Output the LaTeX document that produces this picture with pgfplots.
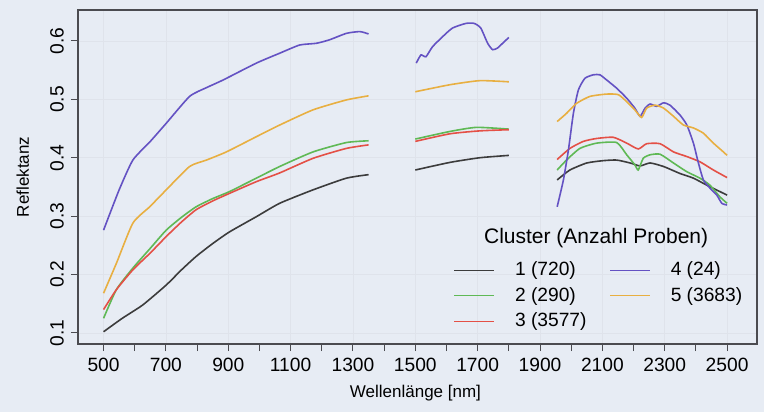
\documentclass[border=0pt]{standalone}
\usepackage{fontspec}
\setmainfont{Liberation Sans}
\usepackage{pgfplots}
\pgfplotsset{compat=1.18}

\definecolor{bgc}{RGB}{231,236,244}
\definecolor{cA}{RGB}{60,60,60}
\definecolor{cB}{RGB}{95,185,85}
\definecolor{cC}{RGB}{228,80,70}
\definecolor{cD}{RGB}{100,82,195}
\definecolor{cE}{RGB}{232,175,65}
\definecolor{axc}{RGB}{75,75,80}

\begin{document}
\begin{tikzpicture}
\fill[bgc] (-39pt,-34pt) rectangle (343pt,172pt);
\begin{axis}[
    name=main,
    at={(0,0)}, anchor=south west,
    scale only axis,
    width=339.5pt, height=167pt,
    xmin=418, xmax=2596,
    ymin=0.081, ymax=0.653,
    xtick={500,700,...,2500},
    minor xtick={600,800,...,2400},
    ytick={0.1,0.2,...,0.6},
    tick align=outside,
    xtick pos=bottom, ytick pos=left,
    major tick length=3.6pt, minor tick length=3.6pt,
    axis line style={axc, line width=0.7pt},
    tick style={axc, line width=0.5pt},
    /pgf/number format/assume math mode=true,
    /pgf/number format/1000 sep={},
    ticklabel style={font=\fontsize{9.6}{11}\selectfont},
    yticklabel style={rotate=90, anchor=south, /pgf/number format/fixed, /pgf/number format/precision=1},
    xlabel={Wellenlänge [nm]},
    ylabel={Reflektanz},
    label style={font=\fontsize{8.5}{10}\selectfont},
    xlabel style={at={(axis description cs:0.497,0)}, anchor=north, yshift=-17pt},
    ylabel style={at={(axis description cs:0,0.5)}, anchor=south, yshift=21pt},
    grid=major,
    grid style={bgc!92!gray, line width=0.3pt},
    every axis plot/.append style={line width=0.8pt, smooth, tension=0.35},
    legend columns=2,
    legend style={draw=none, fill=none, at={(axis cs:1603,0.236)}, anchor=north west,
        font=\fontsize{9.6}{11}\selectfont, row sep=0.3pt,
        /tikz/every odd column/.append style={column sep=8pt},
        /tikz/every even column/.append style={column sep=9.5pt}},
    legend cell align=left,
    legend image code/.code={\draw[#1, line width=0.6pt] (0pt,0pt) -- (20pt,0pt);},
]
% cluster 1
\addplot[cA, forget plot] coordinates {(500,0.102)(560,0.125)(626,0.148)(701,0.182)(750,0.208)(797,0.231)(850,0.253)(904,0.273)(990,0.299)(1065,0.322)(1172,0.345)(1279,0.365)(1350,0.371)};
\addplot[cA, forget plot] coordinates {(1500,0.379)(1611,0.392)(1707,0.400)(1800,0.404)};
\addplot[cA, forget plot] coordinates {(1955,0.362)(1996,0.379)(2050,0.391)(2103,0.395)(2146,0.396)(2189,0.391)(2221,0.386)(2253,0.391)(2296,0.385)(2349,0.373)(2392,0.365)(2435,0.353)(2477,0.342)(2500,0.336)};
% cluster 2
\addplot[cB, forget plot] coordinates {(500,0.125)(541,0.174)(594,0.211)(650,0.245)(701,0.276)(750,0.298)(797,0.316)(850,0.330)(904,0.342)(990,0.365)(1065,0.385)(1172,0.410)(1279,0.426)(1350,0.429)};
\addplot[cB, forget plot] coordinates {(1500,0.432)(1611,0.445)(1696,0.452)(1800,0.449)};
\addplot[cB, forget plot] coordinates {(1955,0.379)(1985,0.396)(2028,0.416)(2082,0.425)(2146,0.426)(2178,0.405)(2204,0.388)(2215,0.379)(2231,0.399)(2253,0.405)(2285,0.406)(2328,0.391)(2371,0.376)(2413,0.365)(2445,0.353)(2477,0.333)(2500,0.322)};
% cluster 3
\addplot[cC, forget plot] coordinates {(500,0.140)(541,0.174)(594,0.208)(650,0.237)(701,0.265)(750,0.290)(797,0.311)(850,0.326)(904,0.339)(990,0.359)(1065,0.374)(1172,0.399)(1279,0.416)(1350,0.422)};
\addplot[cC, forget plot] coordinates {(1500,0.428)(1611,0.441)(1707,0.446)(1800,0.448)};
\addplot[cC, forget plot] coordinates {(1955,0.397)(1996,0.416)(2039,0.428)(2082,0.433)(2135,0.435)(2178,0.425)(2215,0.415)(2242,0.424)(2285,0.424)(2328,0.410)(2371,0.402)(2413,0.393)(2456,0.379)(2500,0.366)};
% cluster 4
\addplot[cD, forget plot] coordinates {(500,0.276)(550,0.345)(594,0.396)(650,0.428)(701,0.459)(776,0.505)(830,0.520)(883,0.533)(990,0.562)(1065,0.579)(1129,0.593)(1183,0.596)(1225,0.602)(1279,0.613)(1322,0.616)(1350,0.612)};
\addplot[cD, forget plot] coordinates {(1503,0.562)(1518,0.576)(1534,0.573)(1555,0.590)(1587,0.607)(1619,0.622)(1662,0.630)(1689,0.630)(1710,0.622)(1732,0.596)(1748,0.585)(1764,0.588)(1780,0.596)(1800,0.606)};
\addplot[cD, forget plot] coordinates {(1955,0.316)(1975,0.362)(1991,0.413)(2007,0.476)(2023,0.516)(2044,0.536)(2071,0.542)(2092,0.542)(2114,0.533)(2146,0.519)(2178,0.502)(2204,0.485)(2221,0.471)(2237,0.485)(2253,0.492)(2274,0.488)(2296,0.494)(2317,0.490)(2349,0.473)(2371,0.456)(2392,0.425)(2408,0.391)(2424,0.362)(2445,0.348)(2467,0.336)(2483,0.322)(2500,0.319)};
% cluster 5
\addplot[cE, forget plot] coordinates {(500,0.168)(541,0.219)(594,0.288)(648,0.316)(701,0.345)(776,0.385)(830,0.396)(894,0.410)(990,0.436)(1065,0.456)(1172,0.482)(1279,0.499)(1350,0.506)};
\addplot[cE, forget plot] coordinates {(1500,0.513)(1611,0.525)(1707,0.532)(1800,0.530)};
\addplot[cE, forget plot] coordinates {(1955,0.462)(1985,0.476)(2017,0.493)(2060,0.505)(2114,0.509)(2151,0.508)(2178,0.496)(2204,0.482)(2226,0.469)(2242,0.485)(2269,0.490)(2296,0.485)(2328,0.471)(2360,0.456)(2392,0.451)(2424,0.442)(2456,0.425)(2488,0.410)(2500,0.404)};

\addlegendimage{cA}\addlegendentry{1 (720)}
\addlegendimage{cD}\addlegendentry{4 (24)}
\addlegendimage{cB}\addlegendentry{2 (290)}
\addlegendimage{cE}\addlegendentry{5 (3683)}
\addlegendimage{cC}\addlegendentry{3 (3577)}

\node[font=\fontsize{10.5}{12}\selectfont] at (axis cs:2080,0.262) {Cluster (Anzahl Proben)};
\end{axis}
\draw[axc, line width=1.2pt] (main.south west) rectangle (main.north east);
\pgfresetboundingbox
\path (-39pt,-34pt) rectangle (343pt,172pt);
\end{tikzpicture}
\end{document}
